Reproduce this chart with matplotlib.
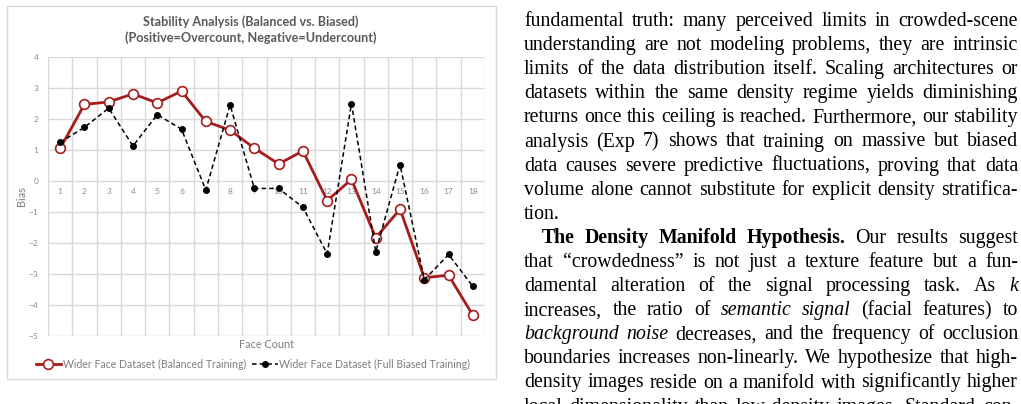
import matplotlib
matplotlib.use("Agg")
import matplotlib.pyplot as plt
from matplotlib.patches import Rectangle
from matplotlib.lines import Line2D

W, H = 1021, 404

# chart data
face_count = list(range(1, 19))
balanced = [1.05, 2.47, 2.55, 2.81, 2.52, 2.90, 1.92, 1.64, 1.06, 0.55,
            0.97, -0.63, 0.05, -1.83, -0.91, -3.12, -3.04, -4.33]
biased = [1.25, 1.73, 2.35, 1.13, 2.14, 1.67, -0.29, 2.45, -0.24, -0.24,
          -0.85, -2.35, 2.50, -2.28, 0.53, -3.19, -2.37, -3.40]
y_ticks = [-5, -4, -3, -2, -1, 0, 1, 2, 3, 4]

# paper text next to the chart: (segments, justify, indent)
# segments are (text, style) with style n=normal, b=bold, i=italic
text_lines = [
    ([("fundamental truth: many perceived limits in crowded-scene", "n")], True, 0),
    ([("understanding are not modeling problems, they are intrinsic", "n")], True, 0),
    ([("limits of the data distribution itself. Scaling architectures or", "n")], True, 0),
    ([("datasets within the same density regime yields diminishing", "n")], True, 0),
    ([("returns once this ceiling is reached. Furthermore, our stability", "n")], True, 0),
    ([("analysis (Exp 7) shows that training on massive but biased", "n")], True, 0),
    ([("data causes severe predictive fluctuations, proving that data", "n")], True, 0),
    ([("volume alone cannot substitute for explicit density stratifica-", "n")], True, 0),
    ([("tion.", "n")], False, 0),
    ([("The Density Manifold Hypothesis.", "b"), ("Our results suggest", "n")], True, 18),
    ([("that \u201ccrowdedness\u201d is not just a texture feature but a fun-", "n")], True, 0),
    ([("damental alteration of the signal processing task. As", "n"), ("k", "i")], True, 0),
    ([("increases, the ratio of", "n"), ("semantic signal", "i"),
      ("(facial features) to", "n")], True, 0),
    ([("background noise", "i"), ("decreases, and the frequency of occlusion", "n")], True, 0),
    ([("boundaries increases non-linearly. We hypothesize that high-", "n")], True, 0),
    ([("density images reside on a manifold with significantly higher", "n")], True, 0),
    ([("local dimensionality than low-density images. Standard con-", "n")], True, 0),
]

fig = plt.figure(figsize=(W / 100, H / 100), dpi=100)
fig.patch.set_facecolor("white")

# chart frame
fig.patches.append(Rectangle((7 / W, 1 - 379 / H), 489 / W, 373 / H,
                             transform=fig.transFigure, fill=False,
                             edgecolor="#d9d9d9", linewidth=1.0))

ax = fig.add_axes([48 / W, 1 - 336 / H, 437 / W, 279 / H])
red = "#a51c1c"
ax.plot(face_count, balanced, color=red, linewidth=2, marker="o",
        markersize=7, markerfacecolor="white", markeredgecolor=red,
        markeredgewidth=1.2, zorder=3)
ax.plot(face_count, biased, color="black", linewidth=1.1, linestyle=(0, (3, 2)),
        marker="o", markersize=4, markerfacecolor="black",
        markeredgecolor="black", zorder=4)

ax.set_xlim(0.5, 18.5)
ax.set_ylim(-5, 4)
ax.set_yticks(y_ticks)
ax.set_xticks(face_count)
ax.grid(False)
for yv in y_ticks:
    ax.axhline(yv, color="#d9d9d9", linewidth=1.0, zorder=0)
for xv in range(0, 19):
    ax.axvline(xv + 0.5, color="#d9d9d9", linewidth=1.0, zorder=0)

for s in ["top", "right", "left", "bottom"]:
    ax.spines[s].set_visible(False)
ax.spines["bottom"].set_position(("data", 0))
ax.tick_params(axis="both", which="both", length=0, labelsize=6,
               labelcolor="#8c8c8c")
ax.tick_params(axis="x", pad=5)
ax.tick_params(axis="y", pad=7)
for lbl in ax.get_xticklabels() + ax.get_yticklabels():
    lbl.set_fontfamily("Lato")

fig.text(267 / W, 1 - 345 / H, "Face Count", ha="center", va="center",
         fontsize=7.8, color="#7f7f7f", family="Lato")
fig.text(22 / W, 1 - 196 / H, "Bias", ha="center", va="center", rotation=90,
         fontsize=7.8, color="#7f7f7f", family="Lato")

fig.text(251 / W, 1 - 22 / H, "Stability Analysis (Balanced vs. Biased)",
         ha="center", va="center", fontsize=9.1, fontweight="bold",
         color="#595959", family="Lato")
fig.text(251 / W, 1 - 38 / H, "(Positive=Overcount, Negative=Undercount)",
         ha="center", va="center", fontsize=9.1, fontweight="bold",
         color="#595959", family="Lato")

handles = [
    Line2D([], [], color=red, linewidth=2, marker="o", markersize=7,
           markerfacecolor="white", markeredgecolor=red, markeredgewidth=1.2),
    Line2D([], [], color="black", linewidth=1.1, linestyle=(0, (3, 2)),
           marker="o", markersize=4, markerfacecolor="black"),
]
leg = fig.legend(handles, ["Wider Face Dataset (Balanced Training)",
                           "Wider Face Dataset (Full Biased Training)"],
                 loc="center", bbox_to_anchor=(253 / W, 1 - 364 / H), ncol=2,
                 frameon=False, handlelength=2.4, handletextpad=0.15,
                 columnspacing=0.6, borderpad=0, borderaxespad=0,
                 prop={"family": "Lato", "size": 7.6})
for t in leg.get_texts():
    t.set_color("#7f7f7f")

# paper text, justified word by word
renderer = fig.canvas.get_renderer()
x_left, x_right = 524, 1018
base0, lead = 26, 24.1
fsize = 14.3
for i, (segs, justify, indent) in enumerate(text_lines):
    words = []
    for txt, st in segs:
        for w in txt.split(" "):
            if not w:
                continue
            t = fig.text(0, 0, w, fontsize=fsize, family="Liberation Serif",
                         fontweight="bold" if st == "b" else "normal",
                         fontstyle="italic" if st == "i" else "normal",
                         va="baseline", ha="left", color="black")
            words.append(t)
    widths = [t.get_window_extent(renderer).width for t in words]
    start = x_left + indent
    if justify and len(words) > 1:
        gap = (x_right - start - sum(widths)) / (len(words) - 1)
    else:
        gap = 3.5
    x = start
    y = base0 + i * lead
    for t, wd in zip(words, widths):
        t.set_position((x / W, 1 - y / H))
        x += wd + gap

fig.savefig("out.png", dpi=100)
